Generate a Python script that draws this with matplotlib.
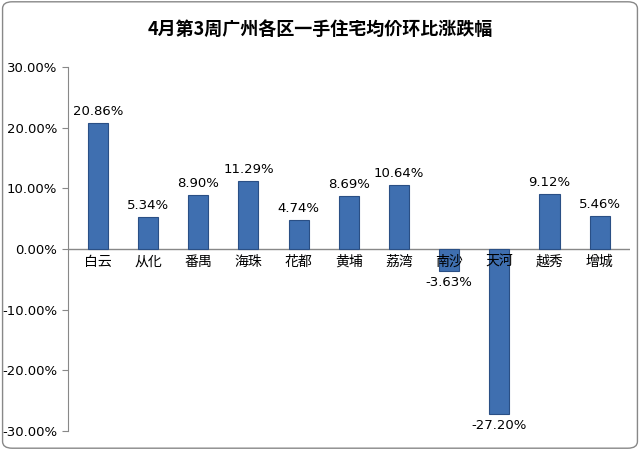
import matplotlib
matplotlib.use("Agg")
import matplotlib.pyplot as plt
from matplotlib.patches import FancyBboxPatch

FONTS = ["Noto Sans CJK SC", "Noto Sans CJK JP", "Noto Sans CJK TC", "Noto Sans CJK KR", "DejaVu Sans"]
plt.rcParams["font.family"] = "sans-serif"
plt.rcParams["font.sans-serif"] = FONTS

categories = ["白云", "从化", "番禺", "海珠", "花都", "黄埔", "荔湾", "南沙", "天河", "越秀", "增城"]
values = [20.86, 5.34, 8.90, 11.29, 4.74, 8.69, 10.64, -3.63, -27.20, 9.12, 5.46]
yticks = [-30, -20, -10, 0, 10, 20, 30]
title = "4月第3周广州各区一手住宅均价环比涨跌幅"

fig = plt.figure(figsize=(6.4, 4.5), dpi=100)
fig.patches.append(FancyBboxPatch((0.004, 0.004), 0.992, 0.992, boxstyle="round,pad=0,rounding_size=0.015",
                                  transform=fig.transFigure, fill=False, edgecolor="#888888", linewidth=1))
ax = fig.add_axes([0.106, 0.042, 0.878, 0.809])
x = list(range(len(categories)))
ax.bar(x, values, width=0.4, color="#3F6FB0", edgecolor="#2A4F85", linewidth=0.8, zorder=2)
ax.set_xlim(-0.6, len(categories) - 0.4)
ax.set_ylim(-30, 30)
ax.set_yticks(yticks)
ax.set_yticklabels([f"{v:.2f}%" for v in yticks], fontsize=9.5, fontfamily="DejaVu Sans")
ax.set_xticks([])
ax.axhline(0, color="#888888", linewidth=1, zorder=1)
for s in ["top", "right", "bottom"]:
    ax.spines[s].set_visible(False)
ax.spines["left"].set_color("#888888")
ax.tick_params(axis="y", color="#888888", length=4)
for xi, v, c in zip(x, values, categories):
    if v >= 0:
        ax.text(xi, v + 0.8, f"{v:.2f}%", ha="center", va="bottom", fontsize=9.5, fontfamily="DejaVu Sans")
    else:
        ax.text(xi, v - 0.8, f"{v:.2f}%", ha="center", va="top", fontsize=9.5, fontfamily="DejaVu Sans")
    ax.text(xi, -0.9, c, ha="center", va="top", fontsize=10, fontfamily=FONTS, zorder=3)
fig.text(0.5, 0.935, title, ha="center", va="center", fontsize=13, fontweight="bold", fontfamily=FONTS)
fig.savefig("out.png", dpi=100)
